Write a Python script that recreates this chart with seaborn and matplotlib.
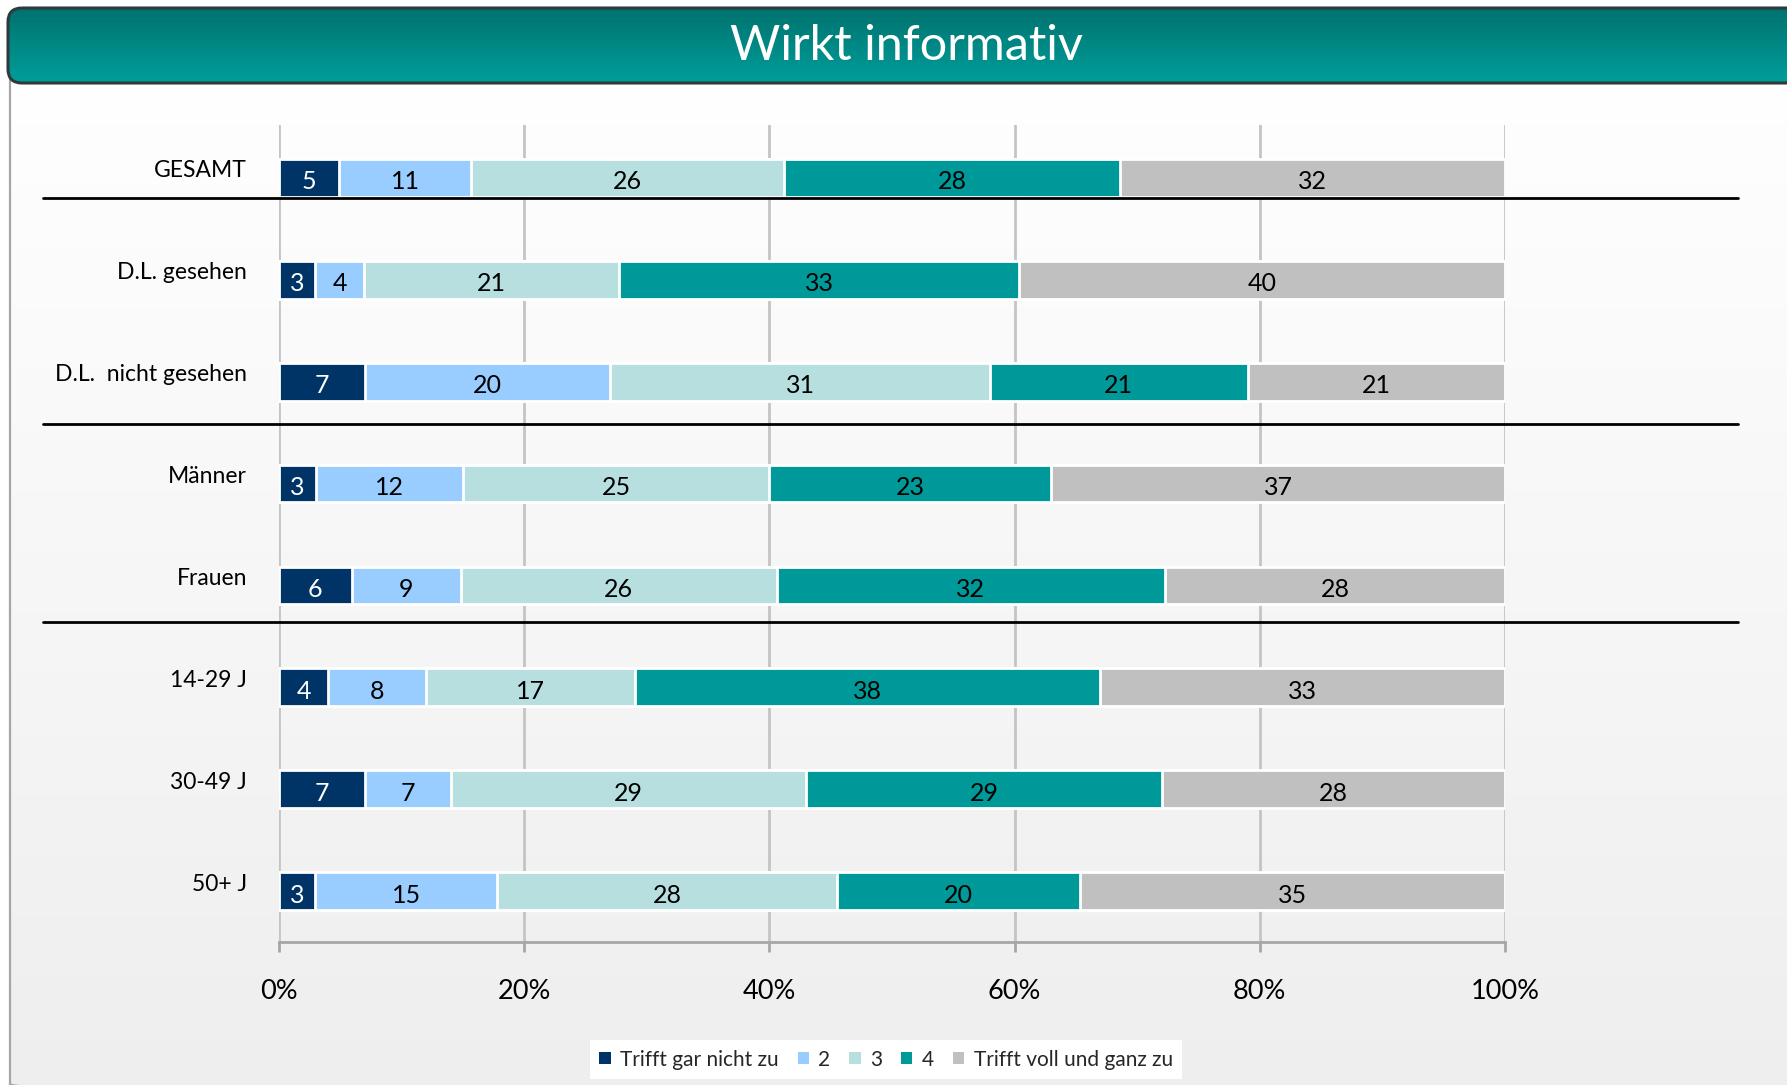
import numpy as np
import pandas as pd
import matplotlib
matplotlib.use("Agg")
import matplotlib.pyplot as plt
import seaborn as sns
from matplotlib.patches import FancyBboxPatch, Patch
from matplotlib import transforms as mtransforms
from matplotlib.colors import LinearSegmentedColormap

# ---------------- data ----------------
categories = ["GESAMT", "D.L. gesehen", "D.L.  nicht gesehen", "Männer",
              "Frauen", "14-29 J", "30-49 J", "50+ J"]
series_names = ["Trifft gar nicht zu", "2", "3", "4", "Trifft voll und ganz zu"]
v1 = [5, 3, 7, 3, 6, 4, 7, 3]
v2 = [11, 4, 20, 12, 9, 8, 7, 15]
v3 = [26, 21, 31, 25, 26, 17, 29, 28]
v4 = [28, 33, 21, 23, 32, 38, 29, 20]
v5 = [32, 40, 21, 37, 28, 33, 28, 35]
series_values = [v1, v2, v3, v4, v5]
colors = ["#003366", "#99ccff", "#b7dfe0", "#009999", "#c0c0c0"]
xtick_values = [0, 20, 40, 60, 80, 100]
xtick_labels = ["0%", "20%", "40%", "60%", "80%", "100%"]
title = "Wirkt informativ"

# ---------------- setup ----------------
sns.set_theme(style="white")
plt.rcParams["font.family"] = ["Lato", "DejaVu Sans"]

W, H = 1787, 1085
fig = plt.figure(figsize=(W / 100, H / 100), dpi=100)
fig.patch.set_facecolor("white")

# background axes in pixel coordinates
bg = fig.add_axes([0, 0, 1, 1], zorder=0)
bg.set_xlim(0, W)
bg.set_ylim(H, 0)
bg.axis("off")

grad = np.linspace(0, 1, 256).reshape(-1, 1)

# panel with vertical gradient
panel = FancyBboxPatch((10, 60), W + 60, 1100 - 60,
                       boxstyle="round,pad=0,rounding_size=16",
                       facecolor="none", edgecolor="#a6a6a6", lw=1.6, zorder=1)
bg.add_patch(panel)
cmap_panel = LinearSegmentedColormap.from_list("panel", ["#ffffff", "#eeeeee"])
im = bg.imshow(grad, cmap=cmap_panel, aspect="auto", origin="upper",
               extent=(10, W + 70, 1100, 60), zorder=0.5)
im.set_clip_path(panel)

# banner with gradient
banner = FancyBboxPatch((8, 8), W + 60, 75,
                        boxstyle="round,pad=0,rounding_size=14",
                        facecolor="none", edgecolor="#2f3b3b", lw=2.2, zorder=3)
bg.add_patch(banner)
cmap_banner = LinearSegmentedColormap.from_list("banner", ["#00726e", "#009e9b"])
im2 = bg.imshow(grad, cmap=cmap_banner, aspect="auto", origin="upper",
                extent=(8, W + 70, 83, 8), zorder=2)
im2.set_clip_path(banner)
bg.text(906, 46, title, color="white", fontsize=35, ha="center", va="center",
        zorder=4)

# ---------------- main chart ----------------
ax = fig.add_axes([279 / W, 1 - 942 / H, 1226 / W, (942 - 125) / H], zorder=2)
ax.set_facecolor("none")

vals = np.array(series_values, dtype=float)  # shape (5, 8)
totals = vals.sum(axis=0)
pct = vals / totals * 100
cum = np.cumsum(pct, axis=0)

df = pd.DataFrame({"cat": categories})
for i in range(5):
    df[f"cum{i}"] = cum[i]

for i in range(4, -1, -1):
    sns.barplot(data=df, x=f"cum{i}", y="cat", orient="h", color=colors[i],
                width=0.37, edgecolor="white", linewidth=2, ax=ax,
                saturation=1)

num_offset = mtransforms.ScaledTranslation(0, -4 / 100, fig.dpi_scale_trans)
for r in range(len(categories)):
    for i in range(5):
        left = cum[i - 1][r] if i > 0 else 0
        mid = (left + cum[i][r]) / 2
        ax.text(mid, r, str(series_values[i][r]), ha="center", va="center",
                fontsize=18, color="white" if i == 0 else "black", zorder=5,
                transform=ax.transData + num_offset)

ax.set_xlim(0, 100)
ax.set_ylim(7.5, -0.52)
ax.set_xticks(xtick_values)
ax.set_xticklabels(xtick_labels, fontsize=19.5)
ax.set_xlabel("")
ax.set_ylabel("")
ax.grid(axis="x", color="#c4c4c4", lw=2)
ax.grid(axis="y", visible=False)
ax.set_axisbelow(True)
for s in ["top", "right", "left"]:
    ax.spines[s].set_visible(False)
ax.spines["bottom"].set_color("#a6a6a6")
ax.spines["bottom"].set_linewidth(2)
ax.tick_params(axis="x", direction="out", length=7.5, width=2, color="#a6a6a6",
               pad=19, labelcolor="black", bottom=True)
ax.tick_params(axis="y", length=0, pad=23, labelsize=16.5, labelcolor="black")

offset = mtransforms.ScaledTranslation(0, 9 / 100, fig.dpi_scale_trans)
for lab in ax.get_yticklabels():
    lab.set_transform(lab.get_transform() + offset)

# separator lines
trans = mtransforms.blended_transform_factory(fig.transFigure, ax.transData)
for yv in [0.2, 2.42, 4.36]:
    ax.plot([43 / W, 1738 / W], [yv, yv], color="black", lw=2,
            transform=trans, clip_on=False, zorder=6)

# legend
handles = [Patch(facecolor=c, edgecolor="none") for c in colors]
leg = fig.legend(handles, series_names, loc="center",
                 bbox_to_anchor=(886 / W, 1 - 1059.5 / H), ncol=5,
                 frameon=True, fancybox=False, fontsize=15,
                 handlelength=0.55, handleheight=0.55, handletextpad=0.45,
                 columnspacing=0.9, borderpad=0.45)
leg.get_frame().set_facecolor("white")
leg.get_frame().set_edgecolor("none")
leg.get_frame().set_alpha(1)
leg.set_zorder(10)

fig.savefig("out.png", dpi=100)
